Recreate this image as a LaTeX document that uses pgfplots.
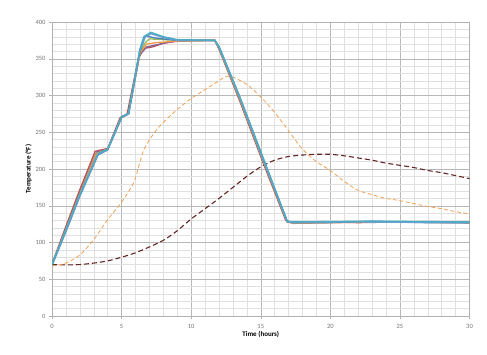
\documentclass[border=0pt]{standalone}
\usepackage{pgfplots}
\pgfplotsset{compat=1.18}
\usepackage{fontspec}
\setmainfont{Carlito}
\definecolor{cblue}{HTML}{4F81BD}
\definecolor{cred}{HTML}{C0504D}
\definecolor{cgreen}{HTML}{9BBB59}
\definecolor{cpurple}{HTML}{8064A2}
\definecolor{caqua}{HTML}{4BACC6}
\definecolor{corange}{HTML}{F79646}
\definecolor{clblue}{HTML}{6A9FD0}
\definecolor{cmaroon}{HTML}{632523}
\definecolor{cdorange}{HTML}{F0A050}
\begin{document}
\begin{tikzpicture}[x=1pt,y=1pt]
\path[use as bounding box] (0,0) rectangle (487,354);
\begin{axis}[
  at={(52pt,38pt)}, anchor=south west,
  scale only axis, width=417.5pt, height=294pt,
  xmin=0, xmax=30, ymin=0, ymax=400,
  xtick={0,5,...,30}, ytick={0,50,...,400},
  minor x tick num=4, minor y tick num=4,
  grid=both,
  major grid style={draw=black!28, line width=0.5pt},
  minor grid style={draw=black!12, line width=0.4pt},
  axis line style={draw=black!30},
  major tick length=3pt, minor tick length=0pt,
  tick align=outside,
  tick style={draw=black!30},
  xtick pos=bottom, ytick pos=left,
  /pgf/number format/assume math mode=true,
  ticklabel style={font=\fontsize{6.5}{7}\selectfont, text=black!55},
  xticklabel style={yshift=-2pt},
  xlabel={\textbf{Time (hours)}},
  ylabel={\textbf{Temperature (°F)}},
  label style={font=\fontsize{7}{8}\selectfont},
  xlabel style={yshift=4pt},
  ylabel style={yshift=-3pt},
  clip=true,
]
% maroon dashed
\addplot[cmaroon, dash pattern=on 5pt off 3pt, line width=1.1pt, smooth] coordinates {
(0,70)(1,69.5)(2,70)(3,72)(4,75)(5,80)(6,86)(7,94)(8,103)(9,116)(10,132)(11,146)(12,160)(13,175)(14,190)(15,203)(16,212)(17,217)(18,219)(19,220)(20,220)(21,218)(22,215)(23,212)(24,208)(25,205)(26,202)(27,198)(28,195)(29,191)(30,187)};
% orange dashed
\addplot[cdorange, dash pattern=on 4pt off 2.5pt, line width=0.8pt, smooth] coordinates {
(0,68)(1,72)(2,83)(3,104)(4,131)(5,155)(5.9,183)(6.6,226)(7.5,253)(8.3,269)(9,281)(10,296)(11,308)(12,320)(12.5,326)(13,325)(14,315)(15,298)(16,277)(17,252)(18,227)(19,210)(20,198)(21,183)(22,171)(23,165)(24,160)(25,157)(26,153)(27,149)(28,146)(29,142)(30,139)};
% solid series
\addplot[cred, line width=1.3pt] coordinates {
(0,71)(1,122)(2,172)(3.1,224)(4,228)(4.9,270)(5.4,275)(6.2,350)(6.6,364)(7.2,366)(8,371)(9,374)(11.7,375)(12,363)(13.5,292)(15.2,207)(16.8,130)(17.2,127)(20,128)(22,127)(25,128)(30,127)};
\addplot[cpurple, line width=1.3pt] coordinates {
(0,70)(1,119)(2,168)(3.2,223)(4,227)(5,271)(5.5,275)(6.3,355)(6.8,366)(7.5,369)(8.5,373)(10,375)(11.7,375)(12,364)(13.5,294)(15.2,209)(16.9,129)(17.3,127)(21,128)(26,128)(30,127)};
\addplot[cgreen, line width=1.3pt] coordinates {
(0,70)(1,118)(2,166)(3.2,221)(4,227)(5,270)(5.5,275)(6.3,356)(6.7,372)(7.0,377)(8,376)(9,375)(11.7,375)(12,364)(13.5,295)(15.2,210)(16.9,128)(17.3,127)(23,128)(30,127)};
\addplot[corange, line width=1.3pt] coordinates {
(0,70)(1,117)(2,166)(3.2,221)(4,227)(5,270)(5.5,275)(6.3,357)(6.8,370)(7.5,372)(9,374)(11.7,375)(12,365)(13.5,295)(15.2,211)(16.9,128)(17.3,126)(24,128)(30,127)};
\addplot[cblue, line width=1.4pt] coordinates {
(0,69)(1,115)(2,163)(3.3,219)(4,226)(5,270)(5.5,275)(6.3,358)(6.7,381)(7.5,378)(9,375)(11.7,375)(12,366)(13.5,297)(15.2,212)(16.9,129)(17.3,127)(20,127)(23,129)(27,127)(30,127)};
\addplot[clblue, line width=1.4pt] coordinates {
(0,70)(1,116)(2,164)(3.3,220)(4,226)(5,271)(5.5,275)(6.3,360)(6.7,380)(7.1,384)(8,379)(9,375)(11.7,375)(12,366)(13.5,297)(15.2,212)(16.9,128)(17.3,127)(21,128)(30,127)};
\addplot[caqua, line width=1.4pt] coordinates {
(0,70)(1,117)(2,165)(3.3,221)(4,227)(5,271)(5.5,276)(6.3,362)(6.6,380)(7.1,386)(8,380)(9,376)(11.7,375)(12,367)(13.5,298)(15.2,214)(16.9,129)(17.3,128)(23,129)(30,128)};
\end{axis}
\end{tikzpicture}
\end{document}
